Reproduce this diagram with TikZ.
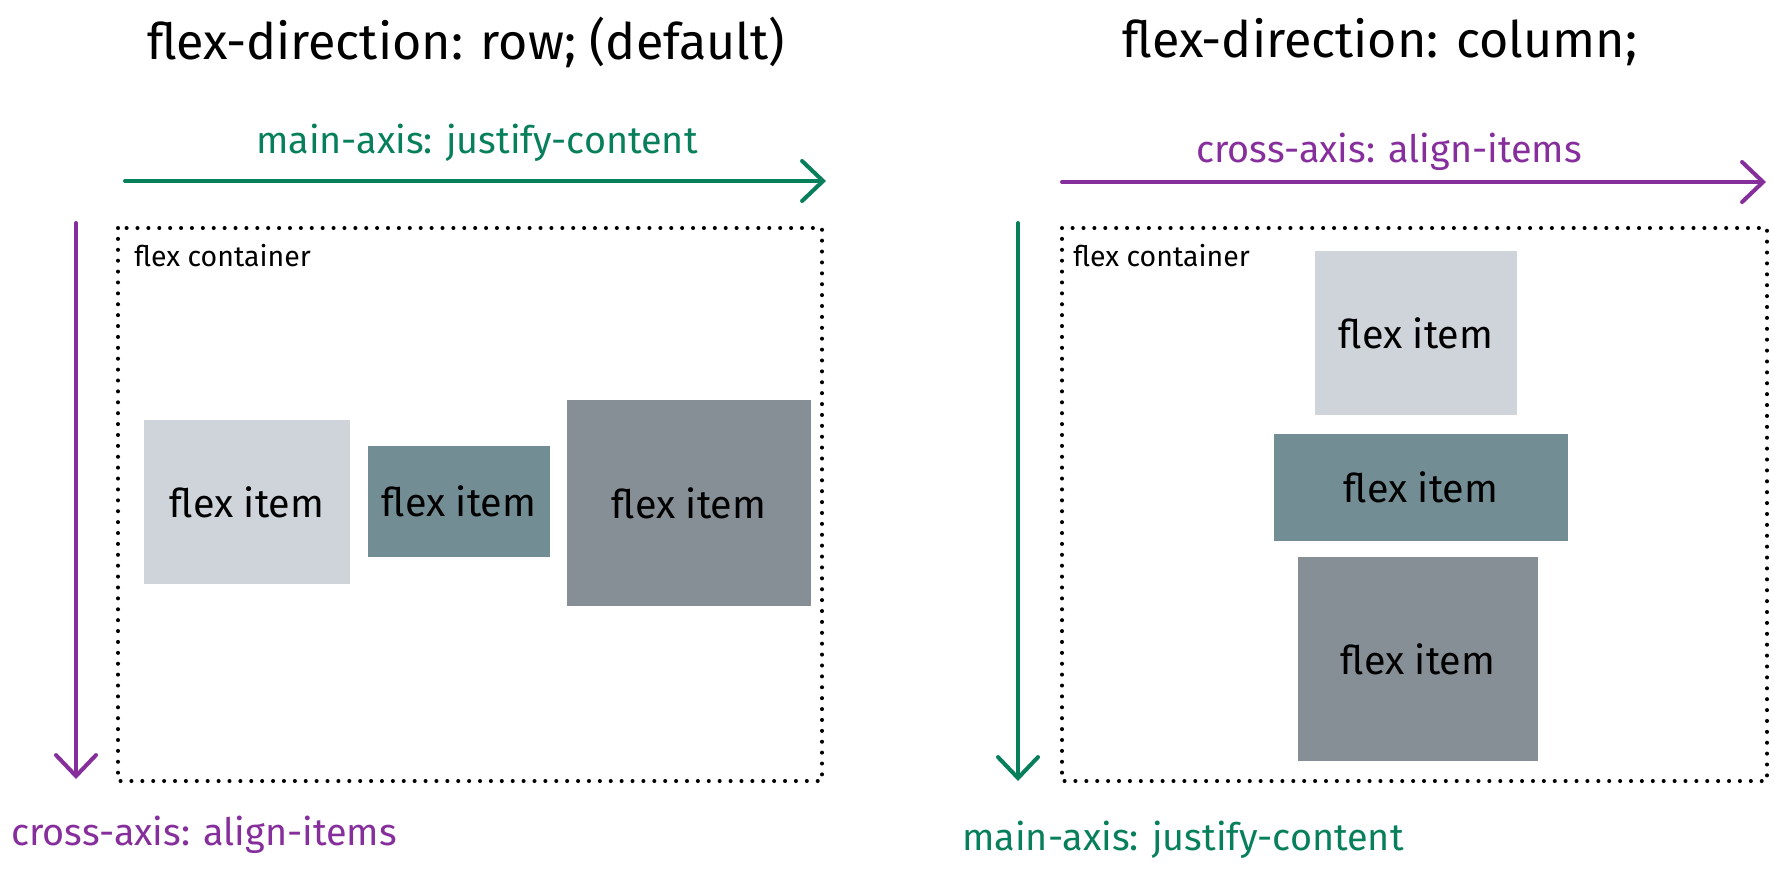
\documentclass[tikz,border=0pt]{standalone}
\usepackage{fontspec}
\setmainfont{Fira Sans}
\usepackage{xcolor}
\usetikzlibrary{arrows.meta}
\definecolor{axisgreen}{HTML}{087F5B}
\definecolor{axispurple}{HTML}{862E9C}
\definecolor{itemlight}{HTML}{CED4DA}
\definecolor{itemteal}{HTML}{738D94}
\definecolor{itemgray}{HTML}{868E96}

\begin{document}
\begin{tikzpicture}[x=0.02cm,y=-0.02cm,
  title/.style={font=\fontsize{28.6}{34}\selectfont,text=black},
  axislabel/.style={font=\fontsize{21.5}{26}\selectfont},
  boxlabel/.style={font=\fontsize{16.2}{19}\selectfont,anchor=west,inner sep=0pt},
  itembox/.style={inner sep=0pt,font=\fontsize{22.5}{27}\selectfont,text=black},
  container/.style={draw=black,line width=2.3pt,line cap=round,dash pattern=on 0pt off 6.2pt},
  axisarrow/.style={-{Straight Barb[length=4.2mm,width=8mm,line cap=round]},line width=2.3pt,line cap=round}
]
\path[use as bounding box] (0,0) rectangle (1775,870);

% Titles
\node[title] (titlerow) at (466,42) {flex-direction: row; (default)};
\node[title] (titlecol) at (1380,42) {flex-direction: column;};

% Row layout
\node[axislabel,text=axisgreen] (rowmainlbl) at (477,143) {main-axis: justify-content};
\coordinate (rowmainA) at (125,181);
\coordinate (rowmainB) at (826,181);
\coordinate (rowcrossA) at (76,223);
\coordinate (rowcrossB) at (76,779);
\draw[container] (118,228) rectangle (822,781);
\node[boxlabel] (rowbox) at (134,256) {flex container};
\node[itembox,fill=itemlight,minimum width=4.14cm,minimum height=3.28cm] (rowitem1) at (247,502) {flex item};
\node[itembox,fill=itemteal,minimum width=3.66cm,minimum height=2.22cm] (rowitem2) at (459,501) {flex item};
\node[itembox,fill=itemgray,minimum width=4.90cm,minimum height=4.14cm] (rowitem3) at (689,503) {flex item};
\node[axislabel,text=axispurple] (rowcrosslbl) at (204,835) {cross-axis: align-items};
\draw[axisarrow,axisgreen] (rowmainA) -- (rowmainB);
\draw[axisarrow,axispurple] (rowcrossA) -- (rowcrossB);

% Column layout
\node[axislabel,text=axispurple] (colcrosslbl) at (1389,152) {cross-axis: align-items};
\coordinate (colcrossA) at (1062,182);
\coordinate (colcrossB) at (1766,182);
\coordinate (colmainA) at (1018,223);
\coordinate (colmainB) at (1018,781);
\draw[container] (1062,228) rectangle (1767,781);
\node[boxlabel] (colbox) at (1073,256) {flex container};
\node[itembox,fill=itemlight,minimum width=4.06cm,minimum height=3.28cm] (colitem1) at (1416,333) {flex item};
\node[itembox,fill=itemteal,minimum width=5.88cm,minimum height=2.14cm] (colitem2) at (1421,487) {flex item};
\node[itembox,fill=itemgray,minimum width=4.80cm,minimum height=4.10cm] (colitem3) at (1418,659) {flex item};
\node[axislabel,text=axisgreen] (colmainlbl) at (1183,840) {main-axis: justify-content};
\draw[axisarrow,axispurple] (colcrossA) -- (colcrossB);
\draw[axisarrow,axisgreen] (colmainA) -- (colmainB);

\end{tikzpicture}
\end{document}
